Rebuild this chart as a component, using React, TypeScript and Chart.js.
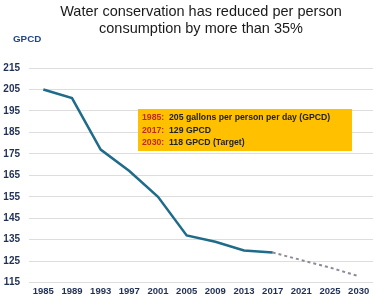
import React, { useEffect, useRef } from "react";
import { Chart, registerables } from "chart.js";

Chart.register(...registerables);

const years = ["1985", "1989", "1993", "1997", "2001", "2005", "2009", "2013", "2017", "2021", "2025", "2030"];
const actual = [205, 201, 177, 167, 155, 137, 134, 130, 129, null, null, null];
const projected = [null, null, null, null, null, null, null, null, 129, 125.5, 122, 118];
const titleLines = ["Water conservation has reduced per person", "consumption by more than 35%"];
const noteYears = ["1985:", "2017:", "2030:"];
const noteTexts = ["205 gallons per person per day (GPCD)", "129 GPCD", "118 GPCD (Target)"];

const FONT = "'Liberation Sans', Arial, sans-serif";

const decorPlugin = {
  id: "decor",
  afterDraw(chart: any) {
    const ctx = chart.ctx as CanvasRenderingContext2D;
    const area = chart.chartArea;
    ctx.save();
    // title
    ctx.fillStyle = "#1a1a1a";
    ctx.font = `14.5px ${FONT}`;
    ctx.textAlign = "center";
    ctx.textBaseline = "middle";
    const cx = (area.left + area.right) / 2;
    ctx.fillText(titleLines[0], cx, 12);
    ctx.fillText(titleLines[1], cx, 29);
    // axis unit label
    ctx.font = `bold 9.8px ${FONT}`;
    ctx.fillStyle = "#23468a";
    ctx.textAlign = "left";
    ctx.fillText("GPCD", 13, 39);
    // note box
    const bx = 138, by = 109, bw = 214, bh = 42;
    ctx.fillStyle = "#FFC000";
    ctx.fillRect(bx, by, bw, bh);
    ctx.font = `bold 8.7px ${FONT}`;
    ctx.textBaseline = "middle";
    for (let i = 0; i < noteYears.length; i++) {
      const y = by + 8.5 + i * 12.8;
      ctx.fillStyle = "#C0291B";
      ctx.fillText(noteYears[i], bx + 4, y);
      ctx.fillStyle = "#222222";
      ctx.fillText(noteTexts[i], bx + 31, y);
    }
    ctx.restore();
  },
};

export default function App() {
  const ref = useRef<HTMLCanvasElement>(null);
  useEffect(() => {
    document.body.style.margin = "0";
    const chart = new Chart(ref.current!, {
      type: "line",
      data: {
        labels: years,
        datasets: [
          {
            data: actual,
            borderColor: "#1f6c8a",
            borderWidth: 2.5,
            pointRadius: 0,
            tension: 0,
            spanGaps: false,
          },
          {
            data: projected,
            borderColor: "#8a8c9a",
            borderWidth: 2,
            borderDash: [3, 3],
            pointRadius: 0,
            tension: 0,
          },
        ],
      },
      options: {
        responsive: false,
        animation: false,
        layout: { padding: { top: 68, left: 3, right: 0, bottom: 0 } },
        plugins: { legend: { display: false }, title: { display: false }, tooltip: { enabled: false } },
        scales: {
          x: {
            offset: true,
            grid: { display: false, drawTicks: false },
            border: { display: false },
            ticks: { color: "#1f2f55", font: { family: FONT, size: 9.5, weight: "bold" }, maxRotation: 0, autoSkip: false, padding: 3 },
          },
          y: {
            min: 115,
            max: 215,
            afterFit: (scale: any) => { scale.width = 26; },
            grid: { color: "#dddddd", lineWidth: 1, drawTicks: false },
            border: { display: false },
            ticks: { stepSize: 10, color: "#1f2f55", font: { family: FONT, size: 10, weight: "bold" }, padding: 9 },
          },
        },
      },
      plugins: [decorPlugin],
    });
    return () => chart.destroy();
  }, []);
  return <canvas ref={ref} width={373} height={300} style={{ display: "block" }} />;
}
